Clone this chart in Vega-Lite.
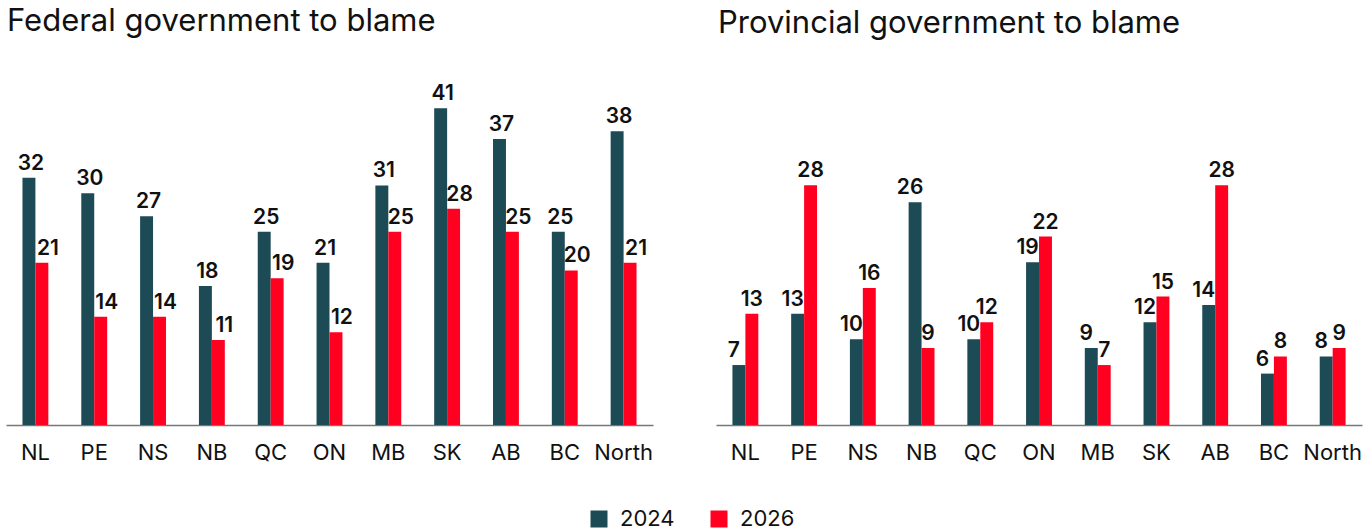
{
  "$schema": "https://vega.github.io/schema/vega-lite/v6.json",
  "padding": {"left": 6, "top": 6, "right": 4, "bottom": 0},
  "background": "white",
  "config": {
    "view": {"stroke": null},
    "font": "Inter",
    "concat": {"spacing": 63},
    "axis": {"labelFont": "Inter"},
    "title": {"font": "Inter"}
  },
  "datasets": {
    "federal": [
      {"region": "NL", "year": "2024", "value": 32}, {"region": "NL", "year": "2026", "value": 21},
      {"region": "PE", "year": "2024", "value": 30}, {"region": "PE", "year": "2026", "value": 14},
      {"region": "NS", "year": "2024", "value": 27}, {"region": "NS", "year": "2026", "value": 14},
      {"region": "NB", "year": "2024", "value": 18}, {"region": "NB", "year": "2026", "value": 11},
      {"region": "QC", "year": "2024", "value": 25}, {"region": "QC", "year": "2026", "value": 19},
      {"region": "ON", "year": "2024", "value": 21}, {"region": "ON", "year": "2026", "value": 12},
      {"region": "MB", "year": "2024", "value": 31}, {"region": "MB", "year": "2026", "value": 25},
      {"region": "SK", "year": "2024", "value": 41}, {"region": "SK", "year": "2026", "value": 28},
      {"region": "AB", "year": "2024", "value": 37}, {"region": "AB", "year": "2026", "value": 25},
      {"region": "BC", "year": "2024", "value": 25}, {"region": "BC", "year": "2026", "value": 20},
      {"region": "North", "year": "2024", "value": 38}, {"region": "North", "year": "2026", "value": 21}
    ],
    "provincial": [
      {"region": "NL", "year": "2024", "value": 7}, {"region": "NL", "year": "2026", "value": 13},
      {"region": "PE", "year": "2024", "value": 13}, {"region": "PE", "year": "2026", "value": 28},
      {"region": "NS", "year": "2024", "value": 10}, {"region": "NS", "year": "2026", "value": 16},
      {"region": "NB", "year": "2024", "value": 26}, {"region": "NB", "year": "2026", "value": 9},
      {"region": "QC", "year": "2024", "value": 10}, {"region": "QC", "year": "2026", "value": 12},
      {"region": "ON", "year": "2024", "value": 19}, {"region": "ON", "year": "2026", "value": 22},
      {"region": "MB", "year": "2024", "value": 9}, {"region": "MB", "year": "2026", "value": 7},
      {"region": "SK", "year": "2024", "value": 12}, {"region": "SK", "year": "2026", "value": 15},
      {"region": "AB", "year": "2024", "value": 14}, {"region": "AB", "year": "2026", "value": 28},
      {"region": "BC", "year": "2024", "value": 6}, {"region": "BC", "year": "2026", "value": 8},
      {"region": "North", "year": "2024", "value": 8}, {"region": "North", "year": "2026", "value": 9}
    ]
  },
  "hconcat": [
    {
      "title": {"text": "Federal government to blame", "anchor": "start", "fontSize": 31, "fontWeight": "normal", "color": "#111", "offset": 45, "dx": 1},
      "width": 647,
      "height": 340,
      "data": {"name": "federal"},
      "encoding": {
        "x": {"field": "region", "type": "nominal", "sort": ["NL","PE","NS","NB","QC","ON","MB","SK","AB","BC","North"],
          "scale": {"paddingInner": 0.56, "paddingOuter": 0.28},
          "axis": {"title": null, "labelAngle": 0, "ticks": false, "domainColor": "#777", "domainWidth": 1.5, "labelFontSize": 22, "labelPadding": 17, "labelColor": "#111"}},
        "xOffset": {"field": "year", "type": "nominal", "sort": ["2024", "2026"]},
        "y": {"field": "value", "type": "quantitative", "scale": {"domain": [0, 44]}, "axis": null}
      },
      "layer": [
        {"mark": {"type": "bar"},
         "encoding": {"color": {"field": "year", "type": "nominal", "scale": {"domain": ["2024", "2026"], "range": ["#1C4A55", "#FF0020"]},
           "legend": {"title": null, "orient": "none", "legendX": 582, "legendY": 423, "direction": "horizontal", "symbolType": "square", "symbolSize": 289, "symbolStrokeWidth": 0, "labelFontSize": 22, "labelColor": "#111", "labelOffset": 10, "columnPadding": 33}}}},
        {"transform": [{"filter": "datum.year == '2024'"}],
         "mark": {"type": "text", "baseline": "alphabetic", "dy": -8, "dx": 2, "fontSize": 21, "fontWeight": 600, "color": "#111"},
         "encoding": {"text": {"field": "value"}}},
        {"transform": [{"filter": "datum.year == '2026'"}],
         "mark": {"type": "text", "baseline": "alphabetic", "dy": -8, "dx": 6, "fontSize": 21, "fontWeight": 600, "color": "#111"},
         "encoding": {"text": {"field": "value"}}}
      ]
    },
    {
      "title": {"text": "Provincial government to blame", "anchor": "start", "fontSize": 31, "fontWeight": "normal", "color": "#111", "offset": 45, "dx": 2},
      "width": 646,
      "height": 340,
      "data": {"name": "provincial"},
      "encoding": {
        "x": {"field": "region", "type": "nominal", "sort": ["NL","PE","NS","NB","QC","ON","MB","SK","AB","BC","North"],
          "scale": {"paddingInner": 0.56, "paddingOuter": 0.28},
          "axis": {"title": null, "labelAngle": 0, "ticks": false, "domainColor": "#777", "domainWidth": 1.5, "labelFontSize": 22, "labelPadding": 17, "labelColor": "#111"}},
        "xOffset": {"field": "year", "type": "nominal", "sort": ["2024", "2026"]},
        "y": {"field": "value", "type": "quantitative", "scale": {"domain": [0, 39.7]}, "axis": null}
      },
      "layer": [
        {"mark": {"type": "bar"},
         "encoding": {"color": {"field": "year", "type": "nominal", "scale": {"domain": ["2024", "2026"], "range": ["#1C4A55", "#FF0020"]}}}},
        {"transform": [{"filter": "datum.year == '2024'"}],
         "mark": {"type": "text", "baseline": "alphabetic", "dy": -8, "dx": -5, "fontSize": 21, "fontWeight": 600, "color": "#111"},
         "encoding": {"text": {"field": "value"}}},
        {"transform": [{"filter": "datum.year == '2026'"}],
         "mark": {"type": "text", "baseline": "alphabetic", "dy": -8, "dx": 0, "fontSize": 21, "fontWeight": 600, "color": "#111"},
         "encoding": {"text": {"field": "value"}}}
      ]
    }
  ],
  "resolve": {"scale": {"y": "independent"}}
}
